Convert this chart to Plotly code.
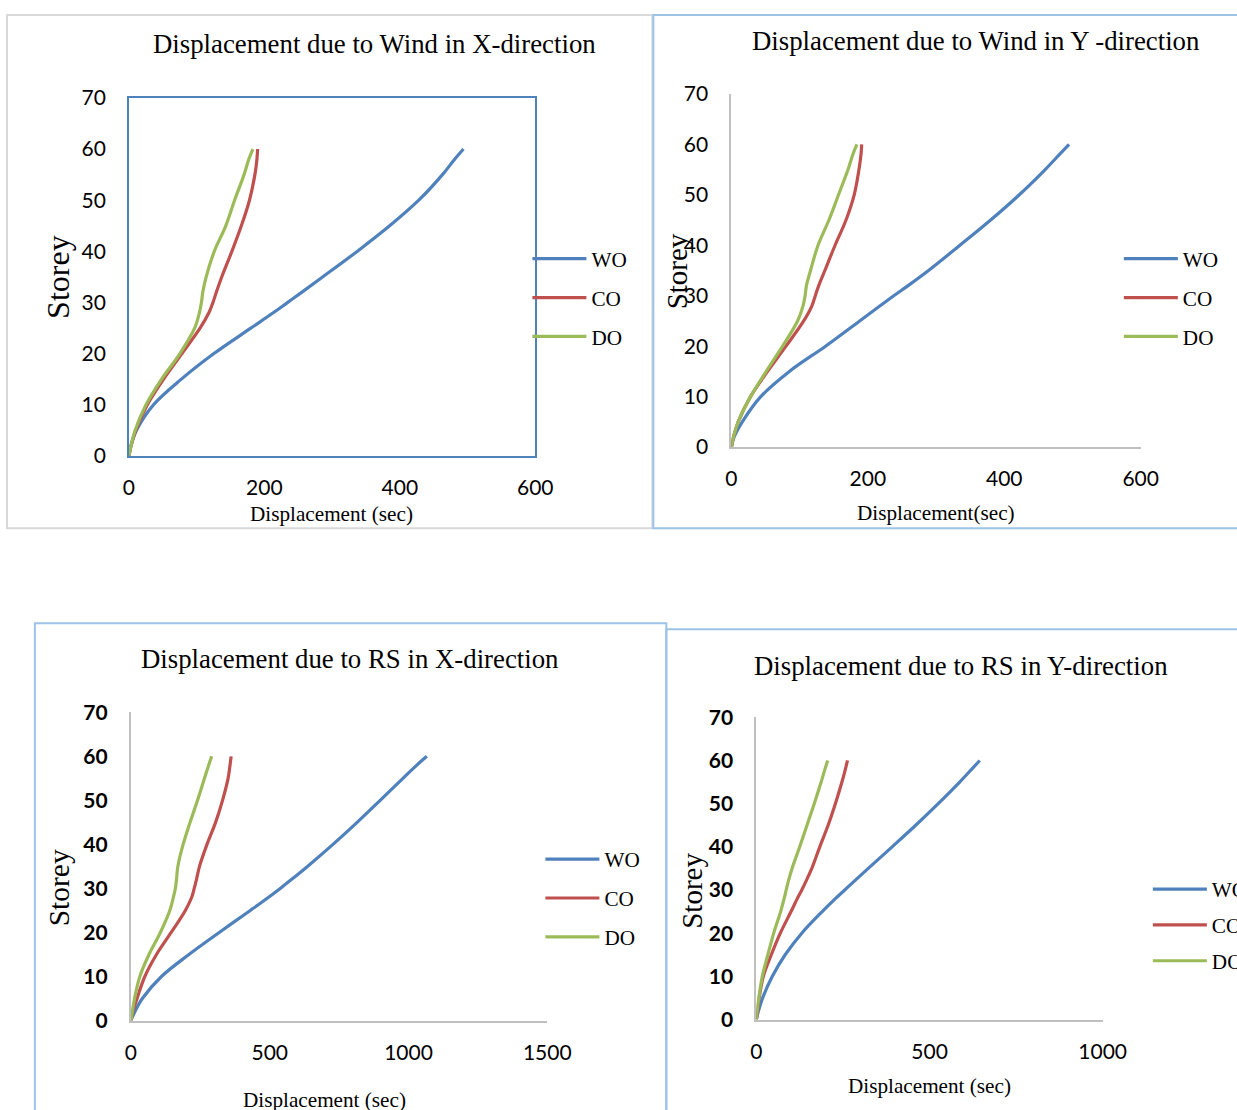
import plotly.graph_objects as go

W, H = 1268, 1136

# ---------------- data ----------------
storey = [0, 2, 5, 10, 15, 20, 25, 28, 30, 32, 35, 40, 45, 50, 55, 58, 60]
series_names = ["WO", "CO", "DO"]

wind_x_wo = [0, 3, 11, 36, 77, 125, 180, 213, 234, 255, 286, 337, 385, 428, 463, 481, 494]
wind_x_co = [0, 3, 10, 27, 51, 78, 105, 118, 124, 129, 137, 152, 166, 178, 186, 189, 190]
wind_x_do = [0, 3, 9, 25, 48, 75, 97, 104, 107, 109, 114, 126, 143, 156, 170, 177, 183]

wind_y_wo = [0, 4, 16, 43, 85, 138, 188, 218, 238, 259, 289, 335, 380, 422, 460, 481, 495]
wind_y_co = [0, 3, 10, 28, 53, 80, 106, 118, 123, 128, 137, 152, 168, 180, 187, 190, 191]
wind_y_do = [0, 3, 10, 28, 51, 75, 97, 105, 108, 110, 116, 127, 143, 157, 171, 178, 184]

rs_x_wo = [0, 14, 41, 110, 209, 318, 430, 496, 538, 578, 636, 728, 815, 898, 980, 1030, 1066]
rs_x_co = [0, 7, 22, 50, 92, 145, 196, 219, 228, 236, 247, 274, 305, 330, 350, 357, 361]
rs_x_do = [0, 5, 13, 32, 65, 106, 140, 153, 160, 164, 169, 188, 213, 240, 265, 280, 291]

rs_y_wo = [0, 6, 18, 46, 83, 131, 190, 228, 255, 282, 323, 392, 460, 525, 587, 622, 645]
rs_y_co = [0, 3, 8, 20, 43, 69, 100, 118, 131, 143, 160, 183, 207, 228, 247, 257, 263]
rs_y_do = [0, 2, 7, 17, 33, 50, 70, 80, 86, 92, 103, 125, 146, 167, 187, 198, 206]

titles = ["Displacement due to Wind in X-direction",
          "Displacement due to Wind in Y -direction",
          "Displacement due to RS in X-direction",
          "Displacement due to RS in Y-direction"]
x_titles = ["Displacement (sec)", "Displacement(sec)", "Displacement (sec)", "Displacement (sec)"]
y_title = "Storey"
x_ranges = [[0, 600], [0, 600], [0, 1500], [0, 1000]]
x_dticks = [200, 200, 500, 500]

panels = [
    [wind_x_wo, wind_x_co, wind_x_do],
    [wind_y_wo, wind_y_co, wind_y_do],
    [rs_x_wo, rs_x_co, rs_x_do],
    [rs_y_wo, rs_y_co, rs_y_do],
]

colors = ["#4F81BD", "#C0504D", "#9BBB59"]

# ---------------- layout helpers ----------------
# target picture pixel -> page pixel (compensates the capture scaling/offset)
SX, OX = 0.9756, 6.15
SY, OY = 0.9773, 13.2

def tx(X):
    return (X - OX) / SX

def ty(Y):
    return (Y - OY) / SY

def px(X):
    return tx(X) / W

def py(Y):
    return 1 - ty(Y) / H

# plot areas in target pixels: (x_left, x_right, y_top, y_bottom)
areas = [(129, 535, 97, 455), (731, 1140, 93, 446), (131, 547, 711, 1019), (756, 1102, 716, 1018)]
title_pos = [(374, 43), (975, 40), (350, 658), (960, 665)]
xtitle_pos = [(331, 513), (935, 512), (324, 1098), (929, 1084)]
ytitle_pos = [(58, 276, 32), (677, 270, 29), (60, 886, 29.5), (692, 889, 29)]
legend_pos = [(533, 258), (1124, 258), (546, 858), (1153, 888)]
legend_gap = [39, 39, 39, 36]

SERIF = "Liberation Serif, Times New Roman, serif"
SANS = "Lato, Carlito, Liberation Sans, sans-serif"

fig = go.Figure()

for i, data in enumerate(panels):
    xa = "x" if i == 0 else f"x{i+1}"
    ya = "y" if i == 0 else f"y{i+1}"
    lg = "legend" if i == 0 else f"legend{i+1}"
    for j, name in enumerate(series_names):
        fig.add_trace(go.Scatter(
            x=data[j], y=storey, mode="lines", name=name,
            line=dict(color=colors[j], width=3.2, shape="spline", smoothing=1.0),
            xaxis=xa, yaxis=ya, legend=lg, legendgroup=f"{i}{name}",
            showlegend=True,
        ))

layout = dict(
    width=W, height=H, margin=dict(l=0, r=0, t=0, b=0),
    paper_bgcolor="white", plot_bgcolor="white",
    showlegend=True, annotations=[], shapes=[],
)

for i in range(4):
    xl, xr, yt, yb = areas[i]
    sfx = "" if i == 0 else str(i + 1)
    axis_color = "#4F81BD" if i == 0 else "#BFBFBF"
    ybold = i >= 2
    layout[f"xaxis{sfx}"] = dict(
        domain=[px(xl), px(xr)], anchor=f"y{sfx}", range=x_ranges[i],
        dtick=x_dticks[i], tick0=0, showgrid=False, zeroline=False,
        showline=True, linecolor=axis_color, linewidth=1.5 if i == 0 else 2,
        mirror=(i == 0), ticks="", ticklabelstandoff=12,
        tickfont=dict(family=SANS, size=21, color="#000000"),
    )
    layout[f"yaxis{sfx}"] = dict(
        domain=[py(yb), py(yt)], anchor=f"x{sfx}", range=[0, 70],
        dtick=10, tick0=0, showgrid=False, zeroline=False,
        showline=True, linecolor=axis_color, linewidth=1.5 if i == 0 else 2,
        mirror=(i == 0), ticks="", ticklabelstandoff=17,
        tickfont=dict(family=SANS, size=21, color="#000000",
                      weight="bold" if ybold else "normal"),
    )
    lx, ly = legend_pos[i]
    layout["legend" if i == 0 else f"legend{i+1}"] = dict(
        x=(tx(lx) - 6) / W, y=1 - (ty(ly) - 21) / H, xanchor="left", yanchor="top",
        bgcolor="rgba(0,0,0,0)", font=dict(family=SERIF, size=21.2, color="#000000"),
        itemwidth=54, tracegroupgap=max(0, legend_gap[i] / SY - 31.6),
        traceorder="grouped",
    )
    tx0, ty0 = title_pos[i]
    layout["annotations"].append(dict(
        text=titles[i], x=px(tx0), y=py(ty0), xref="paper", yref="paper",
        xanchor="center", yanchor="middle", showarrow=False,
        font=dict(family=SERIF, size=26.8, color="#000000"),
    ))
    ax, ay = xtitle_pos[i]
    layout["annotations"].append(dict(
        text=x_titles[i], x=px(ax), y=py(ay), xref="paper", yref="paper",
        xanchor="center", yanchor="middle", showarrow=False,
        font=dict(family=SERIF, size=21.2, color="#000000"),
    ))
    yx, yy, ys = ytitle_pos[i]
    layout["annotations"].append(dict(
        text=y_title, x=px(yx), y=py(yy), xref="paper", yref="paper",
        xanchor="center", yanchor="middle", showarrow=False, textangle=-90,
        font=dict(family=SERIF, size=ys, color="#000000"),
    ))

# panel frames
frames = [((6, 10, 652, 527), "#D9D9D9"), ((653, 10, 1250, 527), "#9DC3E6"),
          ((35, 622, 666, 1125), "#9DC3E6"), ((666, 628, 1250, 1125), "#9DC3E6")]
for (x0, y0, x1, y1), c in frames:
    layout["shapes"].append(dict(
        type="rect", xref="paper", yref="paper",
        x0=max(tx(x0), 1) / W, x1=tx(x1) / W,
        y0=py(y1), y1=1 - max(ty(y0), 1) / H,
        line=dict(color=c, width=2), layer="below",
    ))

fig.update_layout(**layout)
fig.write_html(
    "out.html",
    config={"displayModeBar": False},
    post_script="document.body.style.margin='0';document.body.style.overflow='hidden';",
)
